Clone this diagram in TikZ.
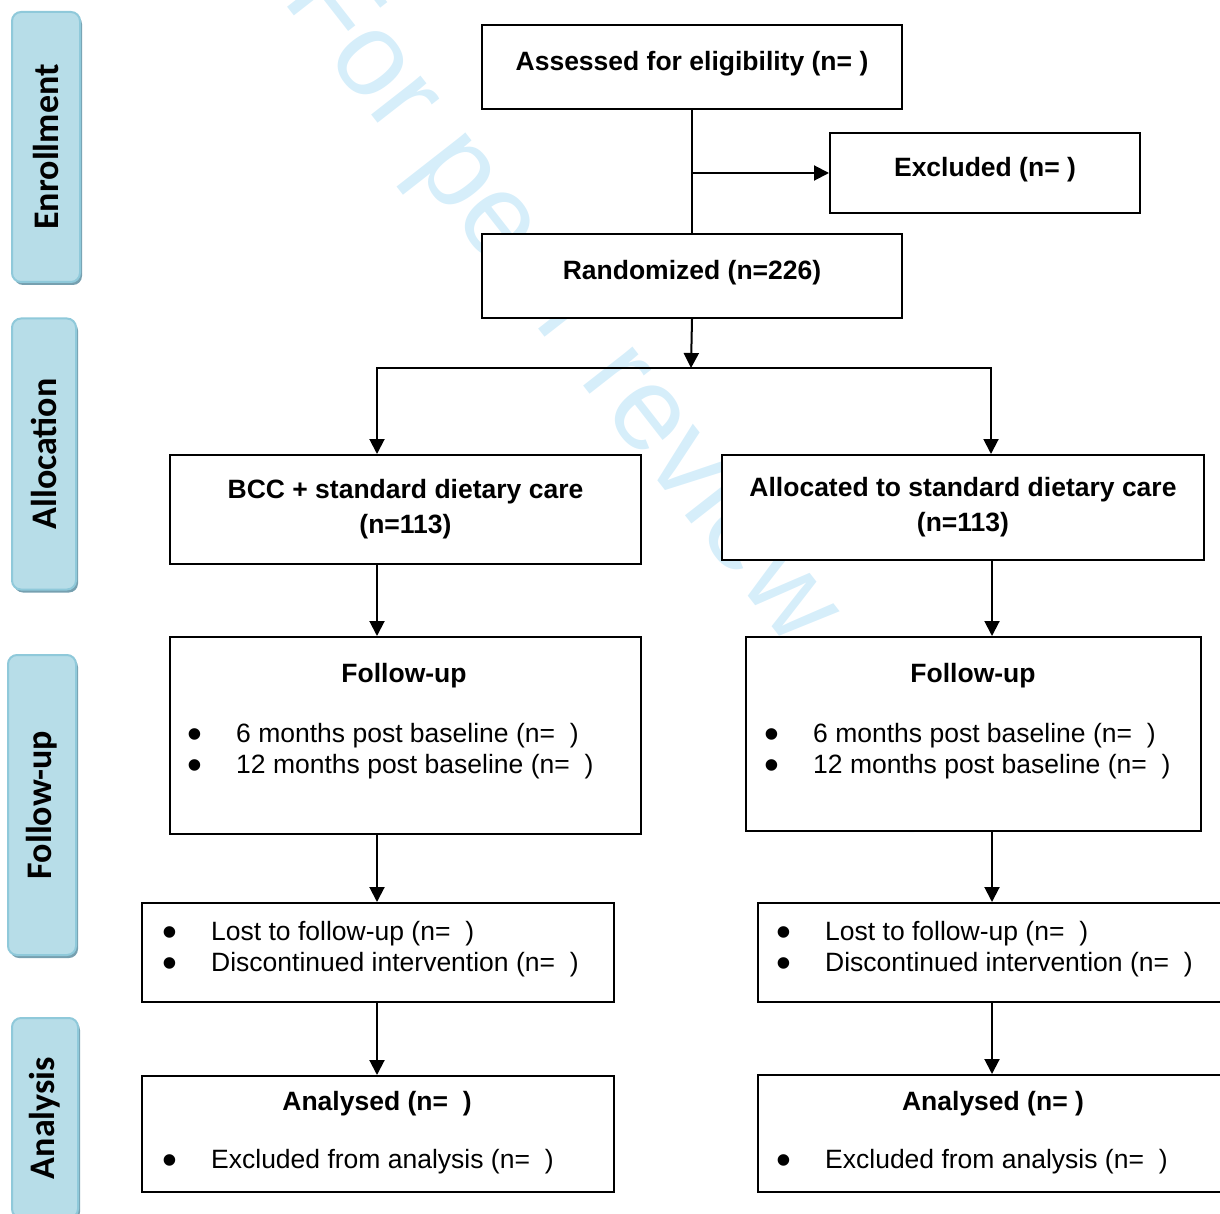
\documentclass[tikz,border=0pt]{standalone}
\usepackage{fontspec}
\setmainfont{Liberation Sans}
\newfontfamily\phasefont{Carlito}
\usepackage{tikz}
\usetikzlibrary{arrows.meta,shadows}
\definecolor{phasefill}{RGB}{183,221,232}
\definecolor{phaseline}{RGB}{143,201,218}
\definecolor{phaseshadow}{RGB}{118,160,176}
\definecolor{wmblue}{RGB}{214,238,250}
\newcommand{\bitem}[1]{\makebox[49pt][l]{\raisebox{-6pt}{\scalebox{1.6}{\textbullet}}}#1}
\newcommand{\ngap}{(n=\ \ )}

\begin{document}
\begin{tikzpicture}[x=1pt, y=-1pt,
	box/.style={draw, line width=2pt, fill=white, anchor=north west, inner sep=0pt,
		align=center, font=\fontsize{26.5}{35}\selectfont\bfseries},
	onebox/.style={box, text depth=12pt},
	txt/.style={inner sep=0pt, anchor=base west, font=\fontsize{26.5}{31}\selectfont},
	ttl/.style={inner sep=0pt, anchor=base, font=\fontsize{26.5}{31}\selectfont\bfseries},
	phase/.style={rounded corners=9pt, fill=phasefill, draw=phaseline, line width=2pt,
		inner sep=0pt, font=\phasefont\fontsize{36}{36}\selectfont\bfseries,
		drop shadow={shadow xshift=2pt, shadow yshift=-3pt, fill=phaseshadow, opacity=1}},
	wmtext/.style={inner sep=0pt, text=wmblue, font=\fontsize{119}{119}\selectfont},
	arr/.style={line width=2pt, -{Triangle[length=15pt,width=15pt]}},
	lin/.style={line width=2pt, line cap=rect}]
			\useasboundingbox (0,0) rectangle (1220,1214);
			\clip (0,0) rectangle (1220,1214);
			%   %   %   %   %   %   %   %   %   %   %
			%   Watermark
				\node[wmtext, rotate=-52, anchor=base west] (wm) at (281,-1) {For peer review only};
			%   %   %   %   %   %   %   %   %   %   %
			%   Phases
				\node[phase, minimum width=68pt, minimum height=270pt] (enrol) at (46,147)
				{\rotatebox{90}{Enrollment}};
				\node[phase, minimum width=64pt, minimum height=271pt] (alloct) at (44,454)
				{\rotatebox{90}{Allocation}};
				\node[phase, minimum width=68pt, minimum height=300pt] (follow) at (42,805)
				{\rotatebox{90}{Follow-up}};
				\node[phase, minimum width=66pt, minimum height=200pt] (analys) at (45,1118)
				{\rotatebox{90}{Analysis}};
			%   %   %   %   %   %   %   %   %   %   %
			%   Enrollment
				\node[onebox, minimum width=420pt, minimum height=84pt] (assess) at (481,24)
				{Assessed for eligibility (n= )};
				\node[onebox, minimum width=310pt, minimum height=80pt] (excl) at (829,132)
				{Excluded (n= )};
				\node[onebox, minimum width=420pt, minimum height=84pt] (rand) at (481,233)
				{Randomized (n=226)};
			%   %   %   %   %   %   %   %   %   %   %
			%   Allocation
				\node[box, minimum width=471pt, minimum height=109pt] (bcc) at (169,454)
				{BCC + standard dietary care\\(n=113)};
				\node[box, minimum width=482pt, minimum height=105pt] (alloc) at (721,454)
				{Allocated to standard dietary care\\(n=113)};
			%   %   %   %   %   %   %   %   %   %   %
			%   Follow-up
				\node[box, minimum width=471pt, minimum height=197pt] (fuL) at (169,636) {};
				\node[ttl] (fuLt) at (404,682) {Follow-up};
				\node[txt] (fuL1) at (187,742) {\bitem{6 months post baseline \ngap}};
				\node[txt] (fuL2) at (187,773) {\bitem{12 months post baseline \ngap}};
				\node[box, minimum width=455pt, minimum height=194pt] (fuR) at (745,636) {};
				\node[ttl] (fuRt) at (973,682) {Follow-up};
				\node[txt] (fuR1) at (764,742) {\bitem{6 months post baseline \ngap}};
				\node[txt] (fuR2) at (764,773) {\bitem{12 months post baseline \ngap}};
			%   %   %   %   %   %   %   %   %   %   %
			%   Losses
				\node[box, minimum width=472pt, minimum height=99pt] (lostL) at (141,902) {};
				\node[txt] (lostL1) at (162,940) {\bitem{Lost to follow-up \ngap}};
				\node[txt] (lostL2) at (162,971) {\bitem{Discontinued intervention \ngap}};
				\node[box, minimum width=480pt, minimum height=99pt] (lostR) at (757,902) {};
				\node[txt] (lostR1) at (776,940) {\bitem{Lost to follow-up \ngap}};
				\node[txt] (lostR2) at (776,971) {\bitem{Discontinued intervention \ngap}};
			%   %   %   %   %   %   %   %   %   %   %
			%   Analysis
				\node[box, minimum width=472pt, minimum height=116pt] (anaL) at (141,1075) {};
				\node[ttl] (anaLt) at (377,1110) {Analysed \ngap};
				\node[txt] (anaL1) at (162,1168) {\bitem{Excluded from analysis \ngap}};
				\node[box, minimum width=480pt, minimum height=117pt] (anaR) at (757,1074) {};
				\node[ttl] (anaRt) at (993,1110) {Analysed (n= )};
				\node[txt] (anaR1) at (776,1168) {\bitem{Excluded from analysis \ngap}};
			%   %   %   %   %   %   %   %   %   %   %
			%   Connectors
				\coordinate (exsplit) at (assess.south |- excl.west);
				\coordinate (split) at (691,368);
				\coordinate (splitL) at (377,368);
				\coordinate (splitR) at (991,368);
				\coordinate (colR) at (992,0);
				\draw[lin] (assess.south) -- (rand.north);
				\draw[arr] (exsplit) -- (excl.west);
				\draw[arr] (rand.south) -- (split);
				\draw[lin] (splitL) -- (splitR);
				\draw[arr] (splitL) -- (splitL |- bcc.north);
				\draw[arr] (splitR) -- (splitR |- alloc.north);
				\draw[arr] (splitL |- bcc.south) -- (splitL |- fuL.north);
				\draw[arr] (colR |- alloc.south) -- (colR |- fuR.north);
				\draw[arr] (splitL |- fuL.south) -- (splitL |- lostL.north);
				\draw[arr] (colR |- fuR.south) -- (colR |- lostR.north);
				\draw[arr] (splitL |- lostL.south) -- (splitL |- anaL.north);
				\draw[arr] (colR |- lostR.south) -- (colR |- anaR.north);
		\end{tikzpicture}
\end{document}
